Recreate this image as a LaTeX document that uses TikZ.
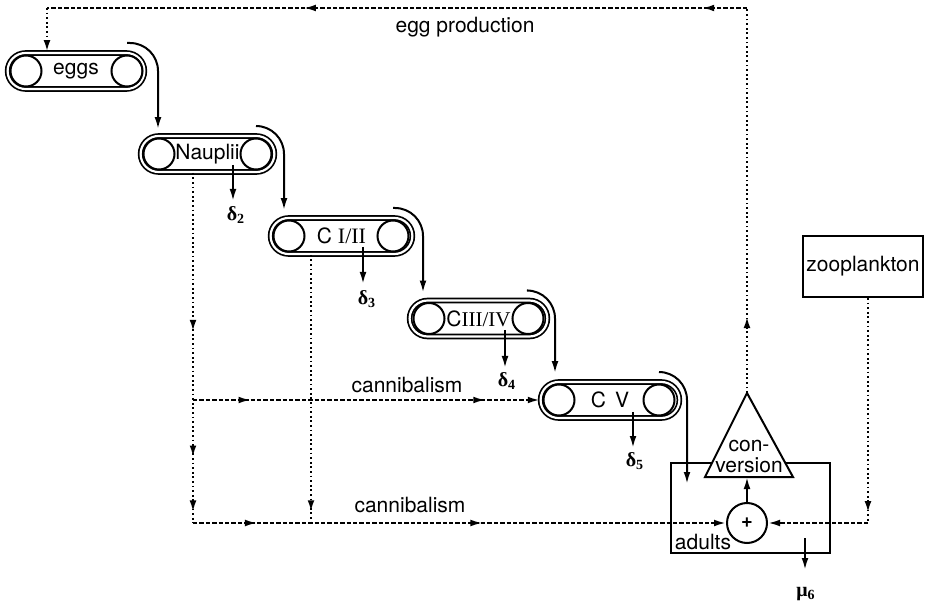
\documentclass[tikz,border=0pt]{standalone}
\usepackage{fontspec}
\setmainfont{TeX Gyre Heros}
\newfontfamily\timesfont{Liberation Serif}
\usetikzlibrary{arrows.meta,decorations.markings,calc}

\tikzset{
  >={Latex[length=6pt,width=3.4pt]},
  stage/.style={draw, double, line width=0.85pt, double distance=1.1pt,
    rounded corners=9pt, minimum height=18pt, inner sep=0pt,
    font=\fontsize{10.5}{12}\selectfont},
  wheel/.style={draw, circle, line width=1pt, minimum size=15.5pt, inner sep=0pt},
  flow/.style={line width=1pt, ->},
  turn/.style={flow, rounded corners=14pt},
  hdash/.style={line width=1pt, dash pattern=on 2.2pt off 1pt},
  vdot/.style={line width=1.2pt, dash pattern=on 0.9pt off 1.4pt},
  tipat/.style={postaction={decorate, decoration={markings,
    mark=at position #1 with {\arrow{>}}}}},
  lbl/.style={font=\fontsize{10.5}{12}\selectfont, inner sep=0pt},
  rate/.style={font=\timesfont\bfseries\fontsize{10}{11}\selectfont, inner sep=0pt},
}

\begin{document}
\begin{tikzpicture}[x=0.5pt, y=-0.5pt]
\useasboundingbox (0,0) rectangle (927,604);

% life stages on the conveyor belts
\node[stage, minimum width=68.4pt] (eggs) at (76,71) {eggs};
\node[wheel] (eggsL) at (26,71) {};
\node[wheel] (eggsR) at (127,71) {};

\node[stage, minimum width=66.9pt] (naup) at (207.5,154) {Nauplii};
\node[wheel] (naupL) at (159,154) {};
\node[wheel] (naupR) at (256,154) {};

\node[stage, minimum width=70.9pt] (c12) at (341.5,236) {C {\timesfont\fontsize{11}{12}\selectfont I/II}};
\node[wheel] (c12L) at (289,236) {};
\node[wheel] (c12R) at (393,236) {};

\node[stage, minimum width=68.9pt] (c34) at (478.5,318.5) {C{\timesfont\fontsize{10.5}{12}\selectfont III/IV}};
\node[wheel] (c34L) at (429,318.5) {};
\node[wheel] (c34R) at (528,318.5) {};

\node[stage, minimum width=69.4pt] (c5) at (610,400) {C\, V};
\node[wheel] (c5L) at (559,400) {};
\node[wheel] (c5R) at (659,400) {};

% adults compartment
\node[draw, line width=1pt, minimum width=79.5pt, minimum height=45pt,
  inner sep=0pt] (adults) at (750.5,508) {};
\node[lbl] (adultslbl) at (703,542) {adults};
\node[draw, circle, line width=1pt, minimum size=20pt, inner sep=0pt,
  fill=white, font=\bfseries] (plus) at (747,523) {+};

\coordinate (convtop) at (747,393);
\coordinate (convbase) at (747,477);
\draw[line width=1pt, fill=white, line join=miter]
  (convtop) -- (793,477) -- (705,477) -- cycle;
\node[align=center, inner sep=0pt, font=\fontsize{10.5}{10.5}\selectfont]
  (convtxt) at (749,456) {con-\\version};

\node[draw, line width=1pt, minimum width=60pt, minimum height=30.5pt,
  inner sep=0pt, font=\fontsize{10.5}{12}\selectfont] (zoo) at (863,266.5) {zooplankton};

% development between stages
\draw[turn] ($(eggsR.center)+(0,-28)$) -| ($(naupL |- naup.north)+(-1,-6)$);
\draw[turn] ($(naupR.center)+(0,-28)$) -| ($(c12L |- c12.north)+(-5,-7)$);
\draw[turn] ($(c12R.center)+(0,-28)$) -| ($(c34L |- c34.north)+(-6,-7)$);
\draw[turn] ($(c34R.center)+(0,-28)$) -| ($(c5L |- c5.north)+(-4,-8)$);
\coordinate (adin) at (687,484);
\draw[turn] ($(c5R.center)+(0,-28)$) -| (adin);

% mortality
\coordinate (d2s) at (233,165); \coordinate (d2e) at (233,201);
\node[rate] (d2) at (236,215) {δ\textsubscript{2}};
\draw[flow] (d2s) -- (d2e);
\coordinate (d3s) at (363,247); \coordinate (d3e) at (363,284);
\node[rate] (d3) at (367,299) {δ\textsubscript{3}};
\draw[flow] (d3s) -- (d3e);
\coordinate (d4s) at (505,330); \coordinate (d4e) at (505,368);
\node[rate] (d4) at (507,381) {δ\textsubscript{4}};
\draw[flow] (d4s) -- (d4e);
\coordinate (d5s) at (633,412); \coordinate (d5e) at (633,448);
\node[rate] (d5) at (635,461) {δ\textsubscript{5}};
\draw[flow] (d5s) -- (d5e);
\coordinate (m6s) at (805,538); \coordinate (m6e) at (805,570);
\node[rate] (mu6) at (806,594) {μ\textsubscript{6}};
\draw[flow] (m6s) -- (m6e);

% egg production loop
\coordinate (eptr) at (747,8);
\coordinate (eptl) at (47,8);
\draw[vdot, tipat=0.2] (convtop) -- (eptr);
\draw[hdash, tipat=0.064, tipat=0.633] (eptr) -- (eptl);
\draw[vdot, ->] (eptl) -- (eptl |- eggs.north);
\node[lbl] (eplbl) at (465,27) {egg production};

% cannibalism
\coordinate (cl1) at (193,400);
\coordinate (cl2) at (193,523);
\coordinate (cl3) at (311,523);
\draw[vdot, tipat=0.454, tipat=0.813, tipat=0.97] (naup.south -| cl1) -- (cl2);
\draw[vdot, tipat=0.96] (c12.south -| cl3) -- (cl3);
\draw[hdash, tipat=0.166, tipat=0.843, ->] (cl1) -- (c5.west);
\draw[hdash, tipat=0.12, tipat=0.543, ->] (cl2) -- (plus.west);
\node[lbl] (can1) at (407,385) {cannibalism};
\node[lbl] (can2) at (410,505) {cannibalism};

% food supply
\coordinate (zc) at (868,523);
\draw[vdot, tipat=0.956] (zoo.south -| zc) -- (zc);
\draw[hdash, ->] (zc) -- (plus.east);

% conversion of food into eggs
\draw[flow] (plus.north) -- (convbase);
\end{tikzpicture}
\end{document}
